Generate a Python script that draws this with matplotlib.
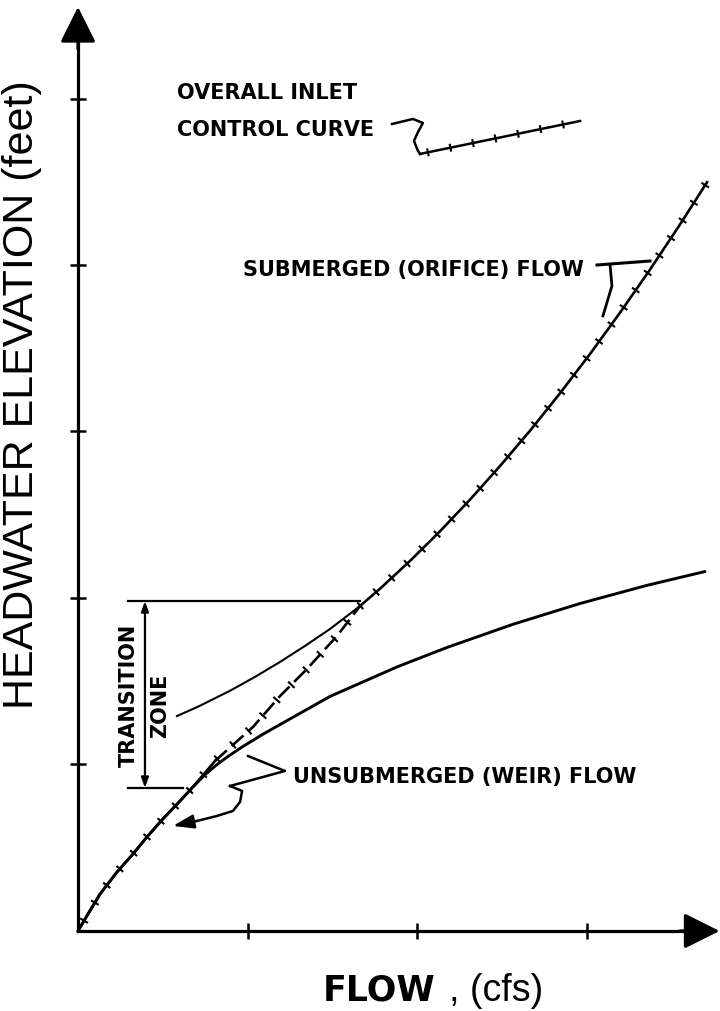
import numpy as np
import matplotlib
matplotlib.use("Agg")
import matplotlib.pyplot as plt

# ---------------- data (chart units: 1 unit = one axis tick) ----------------
x_ticks = [1, 2, 3]
y_ticks = [1, 2, 3, 4, 5]

# overall inlet control curve - weir-controlled part (solid, ticked)
overall_weir_x = [0, 0.059, 0.130, 0.230, 0.324, 0.407, 0.501, 0.602, 0.678, 0.808]
overall_weir_y = [0, 0.102, 0.222, 0.354, 0.462, 0.565, 0.673, 0.781, 0.865, 1.021]
# overall curve through the transition zone (dashed, ticked)
transition_x = [0.808, 1.032, 1.192, 1.351, 1.528, 1.664]
transition_y = [1.021, 1.225, 1.411, 1.574, 1.772, 1.952]
# overall curve - orifice-controlled part (solid, ticked)
overall_orif_x = [1.664, 1.782, 1.959, 2.136, 2.313, 2.490, 2.667, 2.844, 3.021, 3.198, 3.375, 3.552, 3.711]
overall_orif_y = [1.952, 2.056, 2.223, 2.401, 2.591, 2.793, 3.005, 3.230, 3.466, 3.714, 3.973, 4.244, 4.497]

# unsubmerged (weir) flow curve
weir_x = [0, 0.059, 0.130, 0.230, 0.324, 0.407, 0.501, 0.602, 0.678, 0.745, 0.808, 0.880, 0.960, 1.091, 1.487, 1.882, 2.177, 2.566, 2.962, 3.357, 3.699]
weir_y = [0, 0.102, 0.222, 0.354, 0.462, 0.565, 0.673, 0.781, 0.865, 0.935, 0.990, 1.045, 1.100, 1.182, 1.409, 1.586, 1.703, 1.842, 1.967, 2.076, 2.159]

# submerged (orifice) flow curve, lower extension below the transition
orifice_x = [0.584, 0.720, 0.897, 1.044, 1.192, 1.339, 1.487, 1.664]
orifice_y = [1.291, 1.353, 1.443, 1.526, 1.616, 1.712, 1.814, 1.952]

# transition zone bracket
tz_top, tz_bottom = 1.982, 0.859
tz_left, tz_vline = 0.295, 0.395
tz_top_right, tz_bottom_right = 1.664, 0.619

# annotation leaders
inlet_leader_x = [1.853, 1.976, 2.035, 2.006, 1.982, 2.006, 2.018]
inlet_leader_y = [4.847, 4.877, 4.853, 4.799, 4.745, 4.685, 4.667]
inlet_sample_x = [2.018, 2.962]
inlet_sample_y = [4.667, 4.865]

sub_bar_x = [3.062, 3.375]
sub_bar_y = [4.000, 4.024]
sub_stem_x = [3.139, 3.150, 3.097]
sub_stem_y = [4.000, 3.874, 3.694]

unsub_bracket_x = [1.003, 1.221, 0.897]
unsub_bracket_y = [1.051, 0.961, 0.871]
unsub_hook_x = [0.897, 0.968, 0.956, 0.914, 0.820, 0.702, 0.560]
unsub_hook_y = [0.871, 0.841, 0.775, 0.721, 0.691, 0.661, 0.631]

labels = {
    "inlet1": "OVERALL INLET",
    "inlet2": "CONTROL CURVE",
    "sub": "SUBMERGED (ORIFICE) FLOW",
    "unsub": "UNSUBMERGED (WEIR) FLOW",
    "tz1": "TRANSITION",
    "tz2": "ZONE",
    "ylabel": "HEADWATER ELEVATION (feet)",
    "xlabel_bold": "FLOW",
    "xlabel_rest": ", (cfs)",
}

# ---------------- figure ----------------
fig = plt.figure(figsize=(7.2, 10.12), dpi=100)
ax = fig.add_axes([0, 0, 1, 1])
ax.set_xlim(-0.4602, 3.7876)
ax.set_ylim(-0.4805, 5.5976)
for s in ("top", "right"):
    ax.spines[s].set_visible(False)
ax.spines["left"].set_position(("data", 0))
ax.spines["bottom"].set_position(("data", 0))
ax.spines["left"].set_bounds(0, 5.45)
ax.spines["bottom"].set_bounds(0, 3.70)
for s in ("left", "bottom"):
    ax.spines[s].set_linewidth(2.3)
ax.set_xticks(x_ticks)
ax.set_yticks(y_ticks)
ax.set_xticklabels([])
ax.set_yticklabels([])
ax.tick_params(direction="inout", length=11, width=1.8, color="black")
ax.set_facecolor("white")

# axis arrowheads
ax.annotate("", xy=(0, 5.55), xytext=(0, 5.30),
            arrowprops=dict(arrowstyle="-|>,head_length=1.1,head_width=0.55",
                            mutation_scale=20, lw=2.3, color="black",
                            shrinkA=0, shrinkB=0))
ax.annotate("", xy=(3.785, 0), xytext=(3.55, 0),
            arrowprops=dict(arrowstyle="-|>,head_length=1.1,head_width=0.55",
                            mutation_scale=20, lw=2.3, color="black",
                            shrinkA=0, shrinkB=0))

# curves
ax.plot(weir_x, weir_y, color="black", lw=2.1, solid_capstyle="round",
        solid_joinstyle="round", zorder=3)
ax.plot(orifice_x, orifice_y, color="black", lw=1.5, solid_joinstyle="round", zorder=3)
ax.plot(overall_weir_x, overall_weir_y, color="black", lw=1.9,
        solid_joinstyle="round", zorder=4)
ax.plot(transition_x, transition_y, color="black", lw=1.9, zorder=4,
        linestyle=(0, (6, 2.5)))
ax.plot(overall_orif_x, overall_orif_y, color="black", lw=1.9,
        solid_joinstyle="round", zorder=4)

fig.canvas.draw()


def add_cross_ticks(xs, ys, spacing=21.0, half=4.5, start=12.0, lw=1.5):
    pts = ax.transData.transform(np.column_stack([xs, ys]))
    seg = np.diff(pts, axis=0)
    seglen = np.hypot(seg[:, 0], seg[:, 1])
    cum = np.concatenate([[0], np.cumsum(seglen)])
    d = start
    inv = ax.transData.inverted()
    while d < cum[-1] - 3:
        i = min(np.searchsorted(cum, d) - 1, len(seg) - 1)
        i = max(i, 0)
        t = (d - cum[i]) / seglen[i]
        p = pts[i] + t * seg[i]
        tang = seg[i] / seglen[i]
        nrm = np.array([-tang[1], tang[0]])
        a = inv.transform(p - half * nrm)
        b = inv.transform(p + half * nrm)
        ax.plot([a[0], b[0]], [a[1], b[1]], color="black", lw=lw, zorder=5,
                solid_capstyle="butt")
        d += spacing


all_x = overall_weir_x + transition_x[1:] + overall_orif_x[1:]
all_y = overall_weir_y + transition_y[1:] + overall_orif_y[1:]
add_cross_ticks(all_x, all_y, spacing=21.0)

# transition zone bracket
ax.plot([tz_left, tz_top_right], [tz_top, tz_top], color="black", lw=1.6)
ax.plot([tz_left, tz_bottom_right], [tz_bottom, tz_bottom], color="black", lw=1.6)
ax.annotate("", xy=(tz_vline, tz_top), xytext=(tz_vline, tz_bottom),
            arrowprops=dict(arrowstyle="<|-|>,head_length=0.5,head_width=0.18",
                            mutation_scale=12, lw=1.6, color="black",
                            shrinkA=0, shrinkB=0))

# leaders
ax.plot(inlet_leader_x, inlet_leader_y, color="black", lw=1.8)
ax.plot(inlet_sample_x, inlet_sample_y, color="black", lw=1.8)
add_cross_ticks(inlet_sample_x, inlet_sample_y, spacing=23.0, start=8.0, half=4.0)

ax.plot(sub_bar_x, sub_bar_y, color="black", lw=2.2)
ax.plot(sub_stem_x, sub_stem_y, color="black", lw=2.0)

ax.plot(unsub_bracket_x, unsub_bracket_y, color="black", lw=1.8)
ax.plot(unsub_hook_x[:-1], unsub_hook_y[:-1], color="black", lw=1.8)
ax.annotate("", xy=(unsub_hook_x[-1], unsub_hook_y[-1]),
            xytext=(unsub_hook_x[-2], unsub_hook_y[-2]),
            arrowprops=dict(arrowstyle="-|>,head_length=0.9,head_width=0.3",
                            mutation_scale=14, lw=1.8, color="black",
                            shrinkA=0, shrinkB=0))

# text
lab = dict(family="DejaVu Sans", weight="bold", fontsize=15, color="black")
ax.text(0.584, 5.039, labels["inlet1"], ha="left", va="center", **lab)
ax.text(0.584, 4.817, labels["inlet2"], ha="left", va="center", **lab)
ax.text(2.985, 3.976, labels["sub"], ha="right", va="center", **lab)
ax.text(1.268, 0.931, labels["unsub"], ha="left", va="center", **lab)
ax.text(0.301, 1.422, labels["tz1"], ha="center", va="center", rotation=90, **lab)
ax.text(0.484, 1.356, labels["tz2"], ha="center", va="center", rotation=90, **lab)

ax.text(-0.330, 3.225, labels["ylabel"], ha="center", va="center", rotation=90,
        family="Liberation Sans", fontsize=31, color="black")
ax.text(1.445, -0.414, labels["xlabel_bold"], ha="left", va="baseline",
        family="DejaVu Sans", weight="bold", fontsize=25, color="black")
ax.text(2.190, -0.414, labels["xlabel_rest"], ha="left", va="baseline",
        family="Liberation Sans", fontsize=27, color="black")

fig.savefig("out.png", dpi=100, facecolor="white")
